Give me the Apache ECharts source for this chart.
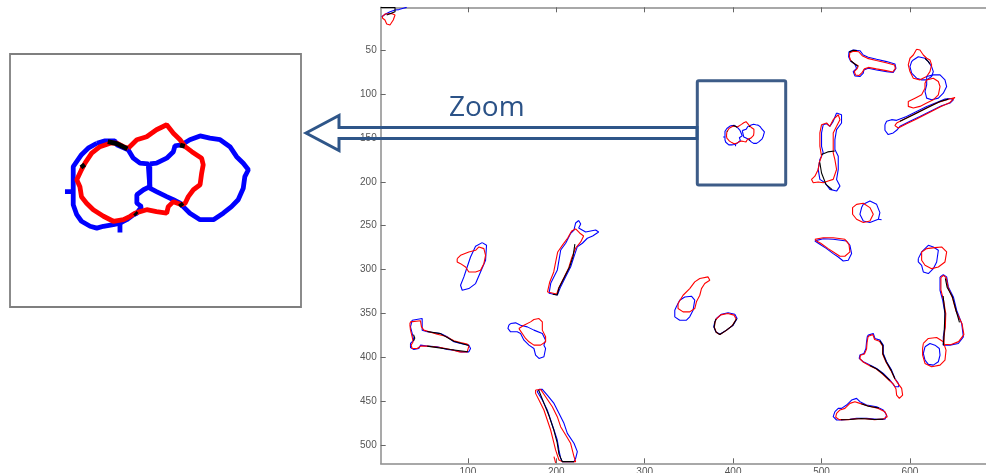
<!DOCTYPE html>
<html><head><meta charset="utf-8">
<script src="https://cdn.jsdelivr.net/npm/echarts@6/dist/echarts.min.js"></script>
<style>html,body{margin:0;padding:0;background:#fff}#c{width:986px;height:473px}</style>
</head><body><div id="c"></div>
<script>
const xTicks=[100,200,300,400,500,600];
const yTicks=[50,100,150,200,250,300,350,400,450,500];

// ---- contour data (image pixel coordinates: x = column, y = row) ----
const cornerBlack=[[1.5,1.6],[17.6,1.6],[17.6,6.4],[8.2,10.2]];
const cornerBlue=[[2.5,12.1],[7,9],[12,6.4],[17.6,4.5],[22,4],[27,2.5],[30.8,1.5]];
const cornerRed=[[3.2,12.1],[6.2,9.1],[13.8,8.4],[17.6,10.2],[15.6,15.9],[11.9,21.5],[8.2,20.4],[6.2,15.9],[3.6,13.9]];

const zoomBlueL=[[396.8,136.4],[398.9,135.8],[401.4,135.8],[401.9,136.8],[404.8,138.1],[406.1,140.3],[407.8,141.6],[409.9,141.8],[410.3,141.8],[410.3,147.7],[408.7,148.5],[407.0,149.8],[407.0,152.0],[408.2,152.9],[407.0,154.6],[406.1,155.0],[404.4,156.3],[402.7,157.2],[401.0,157.6],[398.5,158.0],[396.8,158.5],[395.1,158.0],[392.9,156.7],[391.7,155.0],[390.8,152.4],[390.8,149.4],[390.8,142.5],[392.9,139.4],[394.6,137.7]];
const zoomBlueR=[[410.3,141.8],[412.0,141.6],[414.6,140.3],[416.3,138.6],[416.7,137.1],[418.4,136.8],[420.5,135.5],[423.1,134.5],[425.6,135.1],[428.2,135.5],[430.7,137.3],[432.4,139.9],[434.1,141.6],[435.4,143.3],[434.5,145.1],[434.1,148.1],[432.8,151.1],[431.1,152.9],[429.0,154.6],[426.5,156.3],[423.1,156.3],[420.5,154.6],[418.8,152.9],[418.0,152.0],[416.3,151.1],[414.6,150.3],[412.0,149.0],[410.3,148.1]];
const zoomSpur1=[[388.7,149.0],[390.8,149.0]];
const zoomSpur2=[[402.7,157.4],[402.7,159.6]];
const zoomRed=[[404.8,137.7],[407.0,135.5],[409.5,134.7],[412.0,132.9],[414.6,131.6],[416.3,133.8],[418.0,135.5],[419.3,137.3],[421.0,138.6],[423.5,140.3],[423.9,142.0],[423.5,144.2],[423.1,147.2],[421.4,148.5],[420.1,150.3],[419.3,152.0],[418.4,152.4],[416.3,151.6],[415.0,152.9],[414.6,154.6],[412.0,154.2],[409.5,153.7],[407.8,154.2],[406.5,154.6],[405.3,155.4],[403.6,156.3],[401.0,156.7],[398.5,155.4],[395.9,153.7],[394.2,152.0],[392.9,150.3],[392.5,147.7],[391.7,145.9],[392.9,143.3],[393.8,141.6],[395.5,139.0],[397.6,137.3],[400.2,136.4],[401.9,136.4],[403.6,137.3]];
const zoomBlack1=[[399.6,136.0],[401.9,136.5],[404.6,137.9]];
const zoomBlack2=[[392.9,141.9],[393.6,142.8]];
const zoomBlack3=[[418.0,136.9],[419.2,137.2]];
const zoomBlack4=[[418.0,152.0],[418.6,152.8]];
const zoomBlack5=[[406.5,154.5],[407.0,155.0]];

const bBlue=[[531,52],[535.8,50],[543.4,50.8],[547.2,55.7],[552.8,58.3],[562.3,60.6],[573.6,63.2],[583,65.9],[584.2,70.8],[581.1,75.7],[573.6,74.6],[562.3,72.7],[552.8,70.8],[547.9,72.7],[547.2,76.4],[543.4,80.2],[537.7,79.5],[535.8,74.6],[539.6,70.8],[541.5,68.9],[537.7,66.2],[532.8,62.5],[530.6,57.6]];
const bRed=[[532,53],[536,51.5],[542,52],[546,56.5],[552,59.5],[562,62],[573,64.5],[582.5,67],[583.5,71],[580.5,75],[573,73.5],[562,71.5],[553,69.8],[548.5,71.5],[546,75.5],[542.5,79],[538.5,78.5],[537,74.5],[540.5,71],[541.5,68],[537,65.5],[533,62],[531.5,57.5]];
const bBlack1=[[531,52.5],[535.8,50.3],[540,50.6]];
const bBlack2=[[533,62.3],[537.7,66],[541.3,68.6]];

const c1Red=[[607.5,49.2],[611.3,50],[615.1,55.7],[618.9,59.4],[622.6,61.3],[624.5,67],[622.6,74.6],[618.9,80.2],[611.3,84],[603.8,82.1],[600,74.6],[598.1,67],[600,59.4],[603.8,55.7]];
const c1Blue=[[603.8,61.3],[609.4,57.6],[617,59.4],[620.8,63.2],[624.5,68.9],[626.4,74.6],[624.5,80.2],[618.9,84],[613.2,84],[607.5,82.1],[601.9,76.4],[600,68.9],[601.9,63.2]];
const c1Black=[[617,59.5],[620.8,63.2],[622.6,66]];
const c2Blue=[[618.9,80.2],[626.4,78.3],[634,78.3],[639.6,84],[641.5,91.6],[637.7,99.1],[632.1,104.8],[624.5,106.7],[618.9,104.8],[617,97.2],[618.9,89.7]];
const c2Red=[[618.9,84],[626.4,82.1],[632.1,85.9],[634,91.6],[632.1,101],[626.4,106.7],[618.9,110.4],[611.3,114.2],[603.8,116.1],[598.1,114.2],[598.1,108.6],[605.7,104.8],[613.2,101],[617,93.4],[617,87.8]];
const c3Blue=[[571.7,135],[573.6,131.2],[579.2,129.3],[584.9,130.1],[596.2,125.6],[607.5,119.9],[618.9,114.2],[630.2,109.7],[639.6,105.9],[645.3,105.2],[649.1,106.7],[645.3,110.4],[635.8,113.5],[622.6,119.9],[611.3,125.6],[600,131.2],[588.7,136.9],[584.9,141.4],[581.1,144.4],[575.4,146.3],[571.7,141.4]];
const c3Red=[[584.9,133.1],[596.2,127.4],[607.5,121.8],[618.9,116.1],[630.2,110.4],[641.5,106.7],[650.9,104],[652.8,105.9],[645.3,109.7],[634,115],[620.8,121.8],[607.5,128.5],[596.2,133.9],[586.8,138.8],[583,136.1]];
const c3Black=[[588.7,131.2],[603.8,123.7],[618.9,116.1],[634,108.6],[643.4,105.9]];

const dBlue=[[517,121.8],[522.6,123.7],[522.6,133.1],[517,140.7],[515.1,152],[515.1,163.3],[518.9,170.9],[518.9,186],[517,197.3],[520.8,204.9],[517,210.6],[509.4,208.7],[503.8,201.1],[498.1,197.3],[496.2,186],[498.1,174.7],[501.9,167.1],[500,159.6],[500,144.4],[501.9,135],[505.7,133.9],[509.4,136.9],[513.2,131.2]];
const dRed=[[500,135],[505.7,133.1],[509.4,136.9],[513.2,129.3],[518.9,123.7],[520.8,129.3],[517,136.9],[513.2,144.4],[513.2,159.6],[513.2,167.1],[515.1,174.7],[517,186],[513.2,197.3],[507.5,199.2],[501.9,201.1],[496.2,200.3],[490.6,201.1],[488.7,197.3],[492.5,193.6],[496.2,186],[497.4,178.4],[500,170.9],[498.1,159.6],[498.1,144.4]];
const dBlack1=[[500,169],[507,166],[515,165]];
const dBlack2=[[498,178],[500,190],[505,203],[512,209]];

const eRed=[[539.6,225.7],[547.2,224.5],[554.7,229.4],[558.5,237],[554.7,244.6],[547.2,246.4],[539.6,242.7],[535.1,237],[535.1,229.4]];
const eBlue=[[547.2,225.7],[554.7,221.9],[562.3,225.7],[566,235.1],[564.2,242.7],[554.7,246.4],[547.2,244.6],[543.4,237],[545.3,229.4]];
const eTail=[[564.2,242.7],[567.9,243.3]];

const fBlue=[[116.2,269.3],[121.1,272.3],[120,289.4],[114.3,302.7],[108.7,315.9],[101.1,321.6],[93.6,323.5],[91.7,317.8],[95.5,308.3],[99.2,297],[103,285.6],[108.7,273.5]];
const fRed=[[87.9,287.5],[91.7,283.7],[101.1,279.9],[108.7,278],[112.5,274.2],[118.1,276.1],[120,283.7],[118.1,293.2],[114.3,300.8],[108.7,302.7],[101.1,302.7],[97.4,297],[91.7,293.2],[87.9,291.3]];

const gBlue=[[225.3,244.1],[227.6,248.1],[225.3,252.6],[233.2,257.2],[244.5,254.9],[247.9,257.2],[241.1,261.7],[235.1,264.3],[229.5,270],[223.8,273.9],[220,285.3],[216.3,296.7],[210.6,308.1],[205,319.4],[201.2,328.9],[191.8,327],[193.7,315.6],[201.2,300.4],[203.1,289],[205,277.7],[210.6,270],[216.3,258.6],[220,254.9],[221.9,246.9]];
const gRed=[[190,325.5],[192.6,314.1],[197.1,302.7],[199.3,291.3],[201.6,279.9],[207.2,271.9],[212.9,264],[217.4,256],[221.9,253.7],[226.4,258.3],[230.9,261.7],[227.6,268.5],[221.9,275.4],[217.4,286.8],[214,298.1],[208.4,309.5],[202.7,320.9],[200.5,327.7]];
const gBlack=[[221,271],[219,285],[215,297],[209,309],[203,321],[201,329],[196,328]];

const hBlue=[[37,357.6],[48.3,355.7],[48.3,368.9],[54,370.8],[69.1,372.7],[76.6,376.5],[84.2,382.2],[91.7,384.1],[101.1,386],[103,389.8],[101.1,393.6],[91.7,393.6],[84.2,391.7],[76.6,390.9],[65.3,387.9],[54,387.1],[46.4,386],[44.5,389.8],[42.6,391.7],[38.9,390.9],[35.1,388.6],[35.1,384.1],[38.9,380.3],[37,372.7],[35.1,365.2]];
const hRed=[[34.3,362.1],[35.1,359.5],[46.4,358.3],[47.5,365.2],[50.2,368.9],[65.3,373.5],[74.7,375.8],[84.2,381.1],[91.7,383],[99.2,384.8],[101.1,387.1],[99.2,393.6],[89.8,393.6],[80.4,390.9],[69.1,388.6],[54,387.1],[46.4,387.1],[42.6,389.8],[37,389.8],[35.8,386],[38.1,382.2],[37,376.5],[35.1,368.9]];
const hBlack1=[[54,370.4],[69,372.9],[84,381.5],[101,386.3]];
const hBlack2=[[54,387.1],[80,391],[100,393.5]];
const hBlack3=[[38.5,374],[40,378],[38.5,381]];

const iBlue=[[148.3,361.4],[154,360.6],[159.6,363.3],[167.2,365.2],[174.7,368.9],[184.2,372.7],[187.9,380.3],[186,386],[187.9,389.8],[186,399.2],[180.4,401.1],[176.6,397.3],[174.7,389.8],[169.1,386],[163.4,380.3],[159.6,372.7],[155.8,370.8],[148.3,370.8],[145.3,367],[146.4,363.3]];
const iRed=[[157.7,367],[163.4,363.3],[170.9,359.5],[174.7,356.8],[180.4,355.7],[184.2,359.5],[184.2,368.9],[187.9,376.5],[187.9,382.2],[182.3,386],[174.7,386],[169.1,382.2],[165.3,378.4],[161.5,372.7],[158.9,368.9]];

const jBlue=[[180.4,436.4],[184.2,436.4],[189.8,442.8],[197.4,452.3],[203,463.6],[208.7,475],[212.5,486.4],[220,497.7],[223.8,507.2],[221.9,514.8],[220,518.6],[206.8,518.6],[204.9,514.8],[203,505.3],[201.1,494],[197.4,482.6],[193.6,471.2],[189.8,459.8],[184.2,448.5],[178.5,439]];
const jRed=[[176.6,437.1],[182.3,436.4],[187.9,444.7],[195.5,456.1],[201.1,467.4],[204.9,478.8],[210.6,488.3],[216.2,497.7],[220,512.9],[221.9,518.6],[206.8,518.6],[203,516.7],[199.2,505.3],[197.4,497.7],[193.6,482.6],[189.8,471.2],[186,459.8],[180.4,448.5],[176.6,440.9]];
const jRedBit=[[197.4,512.9],[199.2,520]];
const jBlack=[[180,437],[186,452],[192,467],[197,482],[201,497],[203,510],[206.8,518.6],[220,518.6]];

const kRed=[[337.7,338.6],[343.4,329.2],[350.9,321.6],[356.6,314],[362.3,310.2],[371.7,308.3],[373.6,312.1],[367.9,315.9],[364.2,321.6],[362.3,329.2],[358.5,336.7],[356.6,344.3],[350.9,348.1],[343.4,348.1],[337.7,344.3]];
const kBlue=[[335.8,342.4],[339.6,334.8],[345.3,331.1],[352.8,330.3],[356.6,334.8],[354.7,346.2],[350.9,353.8],[347.2,357.6],[339.6,357.6],[334,353.8],[334,346.2]];

const lBlue=[[381.1,355.7],[386.8,350.8],[394.3,349.2],[401.9,350.8],[404.5,355.7],[400,363.3],[392.5,368.9],[384.9,373.5],[380.4,370.8],[378.1,365.2],[379.2,359.5]];
const lRed=[[380.4,356.8],[386,351.5],[394,350],[401,351.8],[403.5,356.5],[399,363.8],[392,369.5],[385,374],[381,371.5],[378.8,365.8],[379.5,360]];
const lBlack=[[404,356],[399.5,363.5],[392.2,369.2],[385,373.8],[380.7,371.2],[378.5,365.5],[379.4,359.8],[380.8,356.2]];

const mBlue=[[494.3,266.7],[501.9,264.8],[513.2,265.5],[528.3,267.4],[532.1,272.3],[534,281.8],[530.2,289.4],[524.5,290.2],[518.9,285.6],[513.2,281.8],[505.7,276.1],[498.1,271.2],[492.5,267.4]];
const mRed=[[492.5,265.5],[501.9,263.7],[513.2,263.7],[526.4,265.5],[531,271.2],[532.1,279.9],[526.4,284.8],[520.8,284.8],[515.1,281.1],[507.5,276.1],[499,270],[494.3,267.4]];

const nRed=[[613.2,279.9],[618.9,276.1],[628.3,275],[635.8,274.2],[641.5,279.9],[639.6,291.3],[632.1,297],[624.5,298.9],[617,295.1],[613.2,289.4]];
const nBlue=[[609.4,287.5],[613.2,279.9],[620.8,272.3],[626.4,274.2],[632.1,278],[630.2,291.3],[626.4,298.9],[620.8,304.5],[615.1,302.7],[613.2,295.1],[609.4,291.3]];

const oBlue=[[634,308.3],[637.7,305.7],[641.5,308.3],[643.4,319.7],[649.1,331.1],[652.8,346.2],[658.5,361.4],[660.4,376.5],[654.7,384.1],[645.3,386],[637.7,386],[637.7,376.5],[639.6,365.2],[639.6,350],[637,334.8],[634,323.5],[634,312.1]];
const oRed=[[635,309],[638,306.5],[641,309.5],[643,320],[648,332],[652,347],[659,362],[661,374],[655,382],[646,385.5],[638.5,385],[638.5,376],[640,365],[640.5,350],[638,335],[635,323]];
const oBlack1=[[640,310],[642,320],[648,331],[652,346],[656,360]];
const oBlack2=[[637.5,330],[639.6,350],[638.5,376],[637.7,386]];

const pRed=[[615.1,384.1],[620.8,378.4],[630.2,377.3],[637.7,382.2],[640.8,391.7],[639.6,403],[634,408.7],[624.5,410.6],[617,406.8],[614.3,397.3],[614.3,389.8]];
const pBlue=[[617,387.9],[622.6,384.1],[628.3,386],[633.2,389.8],[634,397.3],[632.1,404.9],[626.4,408.7],[620.8,407.9],[617,403],[615.1,395.5]];

const qBlue=[[552.8,374.6],[558.5,372.7],[560.4,378.4],[566,380.3],[569.8,386],[569.8,395.5],[573.6,404.9],[579.2,414.4],[583,423.9],[586.8,429.5],[587.5,433.3],[583,433.3],[577.4,425.8],[569.8,418.2],[562.3,412.5],[554.7,408.7],[547.2,404.9],[542.6,401.1],[543.4,397.3],[547.9,395.5],[550.2,389.8],[550.9,382.2],[551.7,376.5]];
const qRed=[[553.5,375.5],[558,374],[560,379.5],[565.5,381.5],[569,387],[569,396],[573,405.5],[578.5,415],[583,424.5],[586,429],[590.6,435.2],[591.7,442.8],[588,446.6],[584.9,442.8],[584.2,436],[581,430],[577,426.5],[569,419],[562,413.3],[554.5,409.5],[547.5,405.5],[543.4,401.5],[544,397.5],[548.5,396],[550.9,390.5],[551.5,383],[552.5,377]];
const qBlack1=[[566,381],[569.4,386.5],[569.4,395.8],[573.3,405.2],[578.8,414.7],[583,424.2]];
const qBlack2=[[577.2,426.2],[569.4,418.6],[562.1,412.9],[554.6,409.1]];

const rBlue=[[515.1,461.7],[518.9,458],[522.6,458],[528.3,454.2],[534,448.5],[539.6,446.6],[543.4,450.4],[550.9,454.2],[562.3,456.1],[569.8,459.8],[573.6,465.5],[571.7,470.4],[562.3,470.4],[550.9,469.3],[539.6,469.3],[532.1,470.4],[522.6,471.2],[517,471.2],[513.2,467.4]];
const rRed=[[517,463.6],[520.8,459.8],[526.4,458],[532.1,452.3],[537.7,450.4],[543.4,452.3],[552.8,455.3],[564.2,458],[571.7,461.7],[574.3,467.4],[569.8,470],[560,470.8],[550,469.8],[540,469.8],[530,470.8],[520,470.8],[516,468]];
const rBlack1=[[522,470.9],[532,470.6],[545,469.5],[560,470.6],[570,470.2]];
const rBlack2=[[545,452.8],[553,455.5],[565,457.5]];

// ---- build ----
const RED='#ff0000', BLUE='#0000ff', BLACK='#000000';
function closed(a){return a.concat([a[0]]);}
const mainSet=[
 [cornerBlue,BLUE,false],[cornerRed,RED,true],[cornerBlack,BLACK,false],
 [bBlue,BLUE,true],[bRed,RED,true],[bBlack1,BLACK,false],[bBlack2,BLACK,false],
 [c1Blue,BLUE,true],[c1Red,RED,true],[c1Black,BLACK,false],
 [c2Blue,BLUE,true],[c2Red,RED,true],
 [c3Blue,BLUE,true],[c3Red,RED,true],[c3Black,BLACK,false],
 [dBlue,BLUE,true],[dRed,RED,true],[dBlack1,BLACK,false],[dBlack2,BLACK,false],
 [eBlue,BLUE,true],[eRed,RED,true],[eTail,BLUE,false],
 [fBlue,BLUE,true],[fRed,RED,true],
 [gBlue,BLUE,true],[gRed,RED,true],[gBlack,BLACK,false],
 [hBlue,BLUE,true],[hRed,RED,true],[hBlack1,BLACK,false],[hBlack2,BLACK,false],[hBlack3,BLACK,false],
 [iBlue,BLUE,true],[iRed,RED,true],
 [jBlue,BLUE,true],[jRed,RED,true],[jRedBit,RED,false],[jBlack,BLACK,false],
 [kBlue,BLUE,true],[kRed,RED,true],
 [lBlue,BLUE,true],[lRed,RED,true],[lBlack,BLACK,false],
 [mBlue,BLUE,true],[mRed,RED,true],
 [nBlue,BLUE,true],[nRed,RED,true],
 [oBlue,BLUE,true],[oRed,RED,true],[oBlack1,BLACK,false],[oBlack2,BLACK,false],
 [pBlue,BLUE,true],[pRed,RED,true],
 [qBlue,BLUE,true],[qRed,RED,true],[qBlack1,BLACK,false],[qBlack2,BLACK,false],
 [rBlue,BLUE,true],[rRed,RED,true],[rBlack1,BLACK,false],[rBlack2,BLACK,false]
];
const zoomSet=[
 [zoomBlueL,BLUE,true],[zoomBlueR,BLUE,true],[zoomSpur1,BLUE,false],[zoomSpur2,BLUE,false],
 [zoomRed,RED,true],
 [zoomBlack1,BLACK,false],[zoomBlack2,BLACK,false],[zoomBlack3,BLACK,false],[zoomBlack4,BLACK,false],[zoomBlack5,BLACK,false]
];
const series=[];
function add(set,xi,yi,w){
  set.forEach(function(s,i){
    series.push({type:'line',xAxisIndex:xi,yAxisIndex:yi,data:s[2]?closed(s[0]):s[0],
      showSymbol:false,symbol:'none',silent:true,clip:true,z:(s[1]===BLACK?3:2),
      lineStyle:{color:s[1],width:w},emphasis:{disabled:true}});
  });
}
add(mainSet,0,0,1.1);
add(zoomSet,0,0,1.1);
add(zoomSet,2,1,4.8);

const axisCol='#8c8c8c';
const chart=echarts.init(document.getElementById('c'),null,{renderer:'canvas'});
chart.setOption({
  animation:false,
  backgroundColor:'#ffffff',
  grid:[{left:380.7,top:7.3,right:0,bottom:9.7,outerBoundsMode:'none',containLabel:false},
        {left:10,top:54,width:291,height:253,outerBoundsMode:'none',containLabel:false}],
  xAxis:[
    {type:'value',gridIndex:0,position:'bottom',min:1.4,max:686,
     axisLine:{onZero:false,lineStyle:{color:axisCol,width:1.5}},
     axisTick:{inside:true,length:5,customValues:xTicks,lineStyle:{color:'#666',width:1}},
     axisLabel:{customValues:xTicks,color:'#555',fontSize:10,fontFamily:'Liberation Sans',margin:4},
     splitLine:{show:false}},
    {type:'value',gridIndex:0,position:'top',min:1.4,max:686,
     axisLine:{onZero:false,lineStyle:{color:axisCol,width:1.5}},
     axisTick:{inside:true,length:5,customValues:xTicks,lineStyle:{color:'#666',width:1}},
     axisLabel:{show:false},splitLine:{show:false}},
    {type:'value',gridIndex:1,min:374.7,max:448.8,show:false}
  ],
  yAxis:[
    {type:'value',gridIndex:0,inverse:true,min:1.39,max:520.5,
     axisLine:{show:true,onZero:false,lineStyle:{color:axisCol,width:1.5}},
     axisTick:{show:true,inside:true,length:5,customValues:yTicks,lineStyle:{color:'#666',width:1}},
     axisLabel:{customValues:yTicks,color:'#555',fontSize:10,fontFamily:'Liberation Sans',margin:4},
     splitLine:{show:false}},
    {type:'value',gridIndex:1,inverse:true,min:113.2,max:179,show:false}
  ],
  graphic:[
    {type:'rect',shape:{x:10,y:54,width:291,height:253},style:{fill:'none',stroke:'#7f7f7f',lineWidth:1.8},z:10},
    {type:'rect',shape:{x:697.3,y:80.7,width:88.4,height:104.3,r:1.5},style:{fill:'none',stroke:'#3D5C88',lineWidth:3},z:10},
    {type:'polygon',shape:{points:[[306,133],[339,115.5],[339,127.5],[697,127.5],[697,138.5],[339,138.5],[339,150.5]]},
     style:{fill:'none',stroke:'#2F5689',lineWidth:3,lineJoin:'miter'},z:10},
    {type:'text',x:449,y:122,style:{text:'Zoom',font:'28px "Open Sans"',fill:'#2B5287',verticalAlign:'bottom',align:'left'},z:10}
  ],
  series:series
});
</script>
</body></html>
